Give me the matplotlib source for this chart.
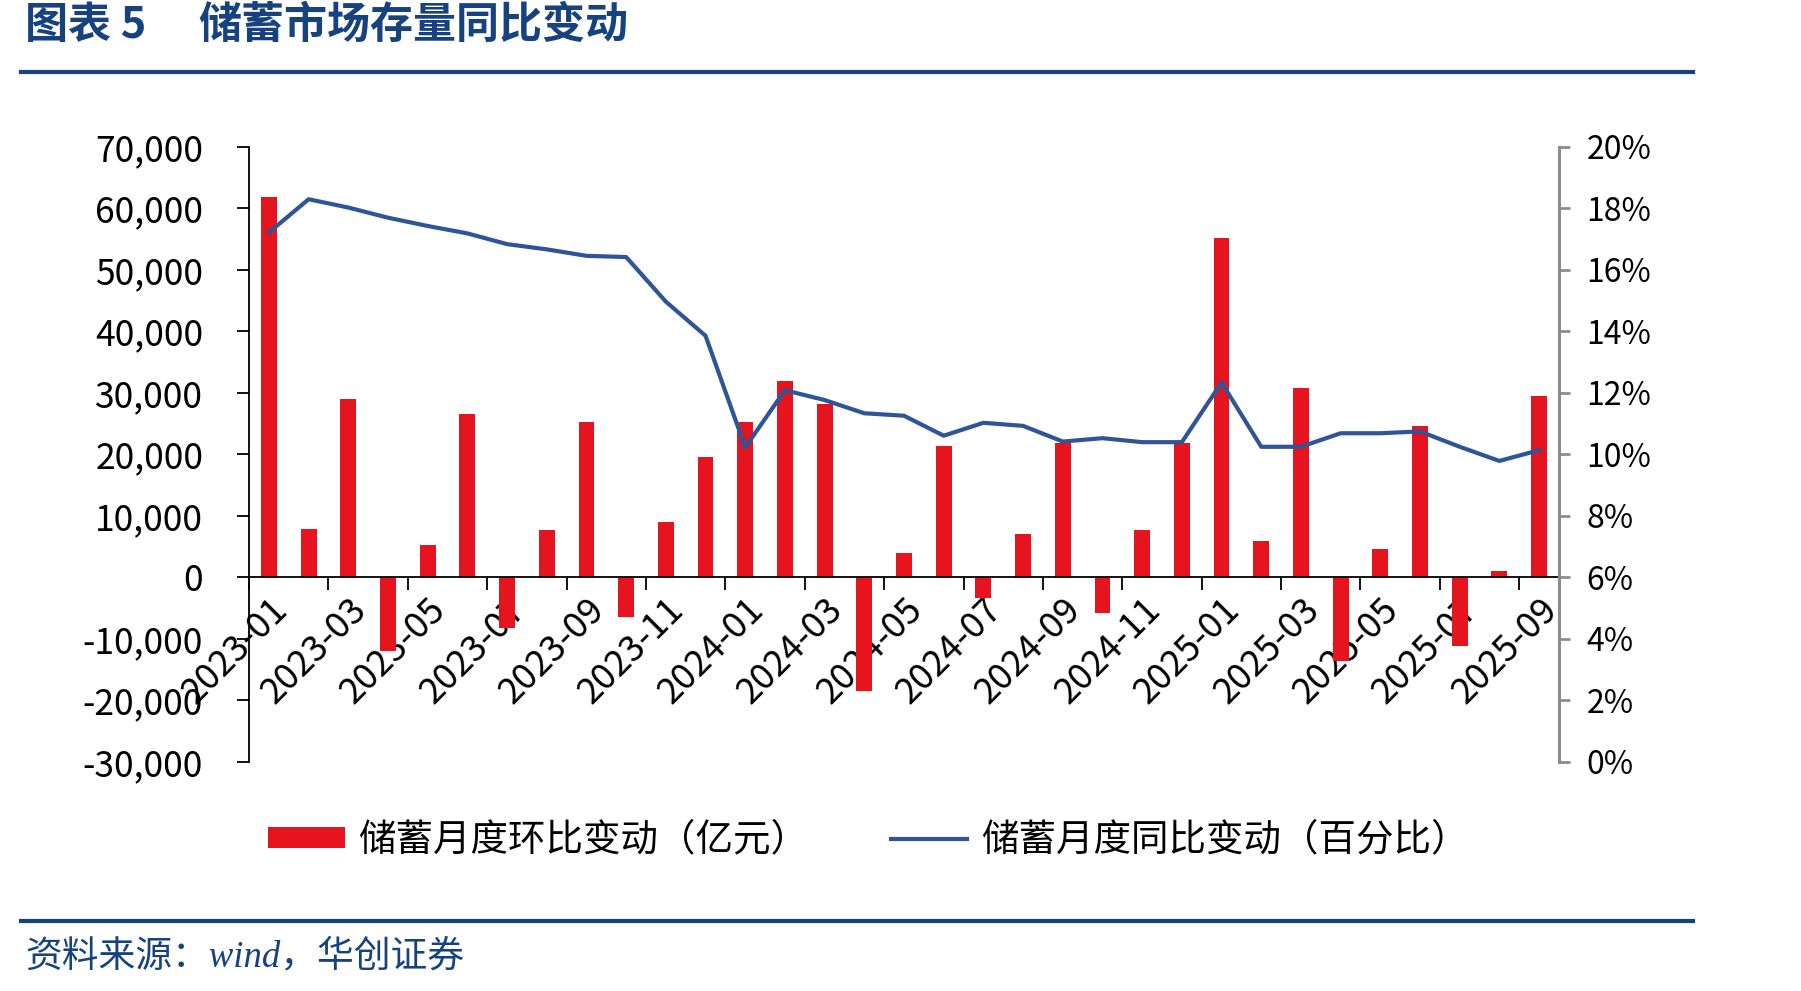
import numpy as np
import matplotlib
matplotlib.use('Agg')
import matplotlib.pyplot as plt
from matplotlib.lines import Line2D
from matplotlib.patches import Patch
from matplotlib.ticker import FuncFormatter, FixedLocator

plt.rcParams['font.family'] = ['Noto Sans CJK SC', 'DejaVu Sans']
plt.rcParams['axes.unicode_minus'] = False

# ---------------- 数据 ----------------
months = ['2023-01', '2023-02', '2023-03', '2023-04', '2023-05', '2023-06',
          '2023-07', '2023-08', '2023-09', '2023-10', '2023-11', '2023-12',
          '2024-01', '2024-02', '2024-03', '2024-04', '2024-05', '2024-06',
          '2024-07', '2024-08', '2024-09', '2024-10', '2024-11', '2024-12',
          '2025-01', '2025-02', '2025-03', '2025-04', '2025-05', '2025-06',
          '2025-07', '2025-08', '2025-09']

# 储蓄月度环比变动（亿元）
mom_change = [61900, 7900, 29000, -12000, 5300, 26600, -8200, 7800, 25200, -6400,
              9000, 19600, 25200, 32000, 28200, -18400, 4000, 21300, -3400, 7000,
              21900, -5800, 7800, 21800, 55200, 6000, 30800, -13600, 4600, 24700,
              -11200, 1100, 29500]

# 储蓄月度同比变动（%）
yoy_change = [17.22, 18.30, 18.03, 17.70, 17.43, 17.19, 16.84, 16.67, 16.46, 16.42,
              14.97, 13.86, 10.23, 12.09, 11.77, 11.34, 11.26, 10.61, 11.03, 10.93,
              10.42, 10.53, 10.40, 10.40, 12.34, 10.25, 10.25, 10.69, 10.69, 10.75,
              10.25, 9.79, 10.14]

title_no = '图表 5'
title_txt = '储蓄市场存量同比变动'
source_txt = '资料来源：wind，华创证券'
bar_label = '储蓄月度环比变动（亿元）'
line_label = '储蓄月度同比变动（百分比）'

BLUE_HDR = '#164380'
RED = '#E5141F'
LINE_BLUE = '#2F5597'

# ---------------- 画布 ----------------
fig = plt.figure(figsize=(18.01, 9.91), dpi=100)
ax = fig.add_axes([0.1383, 0.2311, 0.8656 - 0.1383, 0.8517 - 0.2311])
ax2 = ax.twinx()

x = np.arange(len(months))
ax.bar(x, mom_change, width=0.4, color=RED, zorder=2)
ax2.plot(x, np.array(yoy_change) / 100, color=LINE_BLUE, linewidth=3.0, zorder=3)

# 左轴
ax.set_xlim(-0.5, len(months) - 0.5)
ax.set_ylim(-30000, 70000)
ax.set_yticks(np.arange(-30000, 70001, 10000))
ax.yaxis.set_major_formatter(FuncFormatter(lambda v, p: f'{int(v):,}'))
ax.tick_params(axis='y', direction='out', length=9, width=1.3, labelsize=25.5, pad=24)

ax.spines['top'].set_visible(False)
ax.spines['right'].set_visible(False)
ax.spines['left'].set_linewidth(1.3)
ax.spines['bottom'].set_position(('data', 0))
ax.spines['bottom'].set_linewidth(1.3)

# x 轴：标签在类别中心（隔一个），刻度线在类别边界
ax.set_xticks(x[::2])
ax.set_xticklabels(months[::2], rotation=45, ha='right', va='top',
                   rotation_mode='anchor', fontsize=26)
ax.tick_params(axis='x', which='major', length=0, pad=10)
ax.xaxis.set_minor_locator(FixedLocator(np.arange(-0.5, len(months) - 1, 2)))
ax.tick_params(axis='x', which='minor', direction='out', length=9, width=1.3)

# 右轴
ax2.set_ylim(0, 0.20)
ax2.set_yticks(np.arange(0, 0.2001, 0.02))
ax2.yaxis.set_major_formatter(FuncFormatter(lambda v, p: f'{v * 100:.0f}%'))
ax2.tick_params(axis='y', direction='out', length=8, width=2, color='#8C8C8C',
                labelsize=23, pad=12)
for s in ['top', 'left', 'bottom']:
    ax2.spines[s].set_visible(False)
ax2.spines['right'].set_color('#8C8C8C')
ax2.spines['right'].set_linewidth(2.2)

# 图例
handles = [Patch(facecolor=RED, edgecolor='none'),
           Line2D([0], [0], color=LINE_BLUE, linewidth=3)]
fig.legend(handles, [bar_label, line_label], loc='center', ncol=2,
           bbox_to_anchor=(0.482, 0.152), frameon=False, fontsize=27,
           handlelength=2.05, handleheight=0.45, handletextpad=0.35,
           columnspacing=2.2)

# 标题、分隔线、资料来源
fig.text(0.0139, 0.975, title_no, fontsize=31, fontweight='bold',
         color=BLUE_HDR, ha='left', va='center')
fig.text(198 / 1801, 0.975, title_txt, fontsize=31, fontweight='bold',
         color=BLUE_HDR, ha='left', va='center')
fig.add_artist(Line2D([21 / 1801, 1693 / 1801], [1 - 72 / 991] * 2,
                      transform=fig.transFigure, color=BLUE_HDR, linewidth=3))
fig.add_artist(Line2D([21 / 1801, 1693 / 1801], [1 - 921 / 991] * 2,
                      transform=fig.transFigure, color=BLUE_HDR, linewidth=3))
fig.text(0.0139, 1 - 957 / 991, source_txt, fontsize=26.5, color=BLUE_HDR,
         ha='left', va='center', style='italic',
         family=['Liberation Serif', 'Noto Sans CJK SC'])

fig.savefig('out.png', dpi=100)
